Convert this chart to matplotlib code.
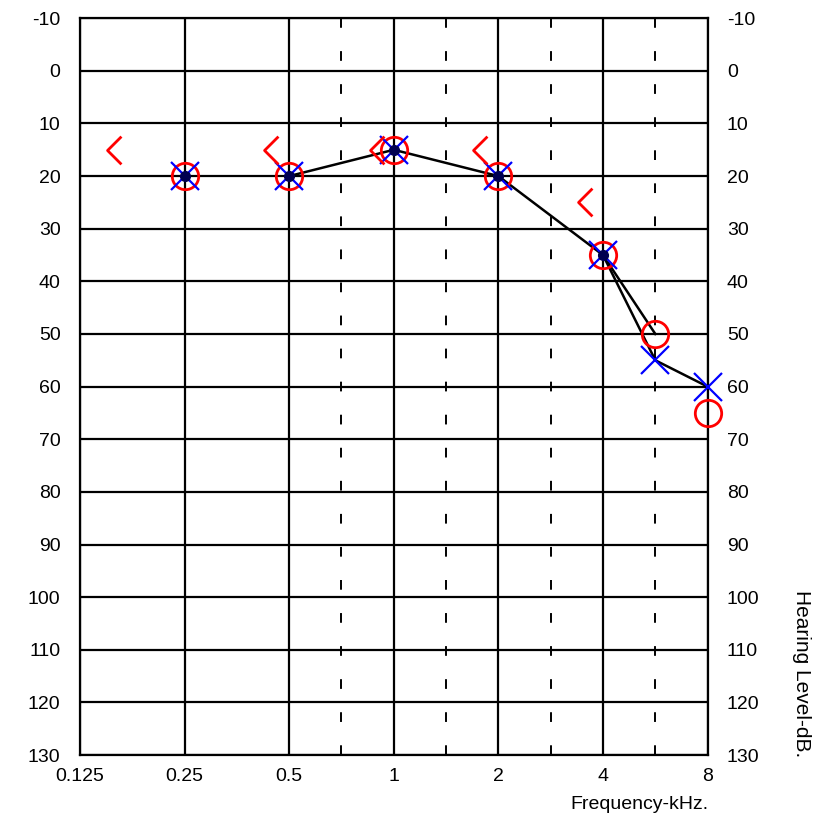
import matplotlib.pyplot as plt
from matplotlib.path import Path

# частоты (кГц) и пороги (дБ); 6 кГц стоит посередине между 4 и 8
freqs = [0.25, 0.5, 1, 2, 4, 5.66, 8]
right_ac = [20, 20, 15, 20, 35, 50, 65]   # красные O
left_ac = [20, 20, 15, 20, 35, 55, 60]    # синие X

bone_freqs = [0.157, 0.444, 0.894, 1.77, 3.55]
bone_vals = [15, 15, 15, 15, 25]

line_freqs = [0.5, 1, 2, 4, 5.66, 8]
line_vals = [20, 15, 20, 35, 55, 60]
line2_freqs = [4, 5.66]
line2_vals = [35, 50]

dot_freqs = [0.25, 0.5, 1, 2, 4]
dot_vals = [20, 20, 15, 20, 35]

x_ticks = [0.125, 0.25, 0.5, 1, 2, 4, 8]
x_labels = ['0.125', '0.25', '0.5', '1', '2', '4', '8']
half_oct = [0.707, 1.414, 2.83, 5.66]
y_ticks = list(range(-10, 131, 10))

plt.rcParams['font.family'] = ['Liberation Sans', 'DejaVu Sans']
plt.rcParams['axes.unicode_minus'] = False

fig = plt.figure(figsize=(8.29, 8.27), dpi=100)
ax = fig.add_axes([0.0965, 0.087, 0.757, 0.891])
ax.set_xscale('log', base=2)
ax.set_xlim(0.125, 8)
ax.set_ylim(130, -10)

for y in y_ticks:
    ax.axhline(y, color='black', lw=1.6, zorder=1)
for x in x_ticks:
    ax.axvline(x, color='black', lw=1.6, zorder=1)
for x in half_oct:
    ax.axvline(x, color='black', lw=1.4, ls=(0, (5, 12)), zorder=1)

# линии
ax.plot(line_freqs, line_vals, color='black', lw=1.8, zorder=2)
ax.plot(line2_freqs, line2_vals, color='black', lw=1.8, zorder=2)

ax.plot(freqs, right_ac, 'o', ms=19, mfc='none', mec='red', mew=2,
        zorder=3, clip_on=False)
ax.plot(freqs, left_ac, 'x', ms=20, color='blue', mew=1.6, zorder=4,
        clip_on=False)
ax.plot(dot_freqs, dot_vals, 'o', ms=7, color='#000050', zorder=5)

bracket = Path([(0.5, 1), (-0.5, 0), (0.5, -1)],
               [Path.MOVETO, Path.LINETO, Path.LINETO])
ax.plot(bone_freqs, bone_vals, ls='none', marker=bracket, ms=20,
        mfc='none', mec='red', mew=2, zorder=4)

ax.set_xticks(x_ticks)
ax.set_xticklabels(x_labels)
ax.minorticks_off()
ax.set_yticks(y_ticks)
ax.tick_params(length=0, labelsize=14, labelright=True, pad=14)
ax.tick_params(axis='x', pad=9)
for s in ax.spines.values():
    s.set_linewidth(1.6)

fig.text(0.855, 0.027, 'Frequency-kHz.', ha='right', va='center', fontsize=14)
fig.text(0.967, 0.186, 'Hearing Level-dB.', rotation=-90, ha='center',
         va='center', fontsize=15)

fig.savefig('out.png', dpi=100)
